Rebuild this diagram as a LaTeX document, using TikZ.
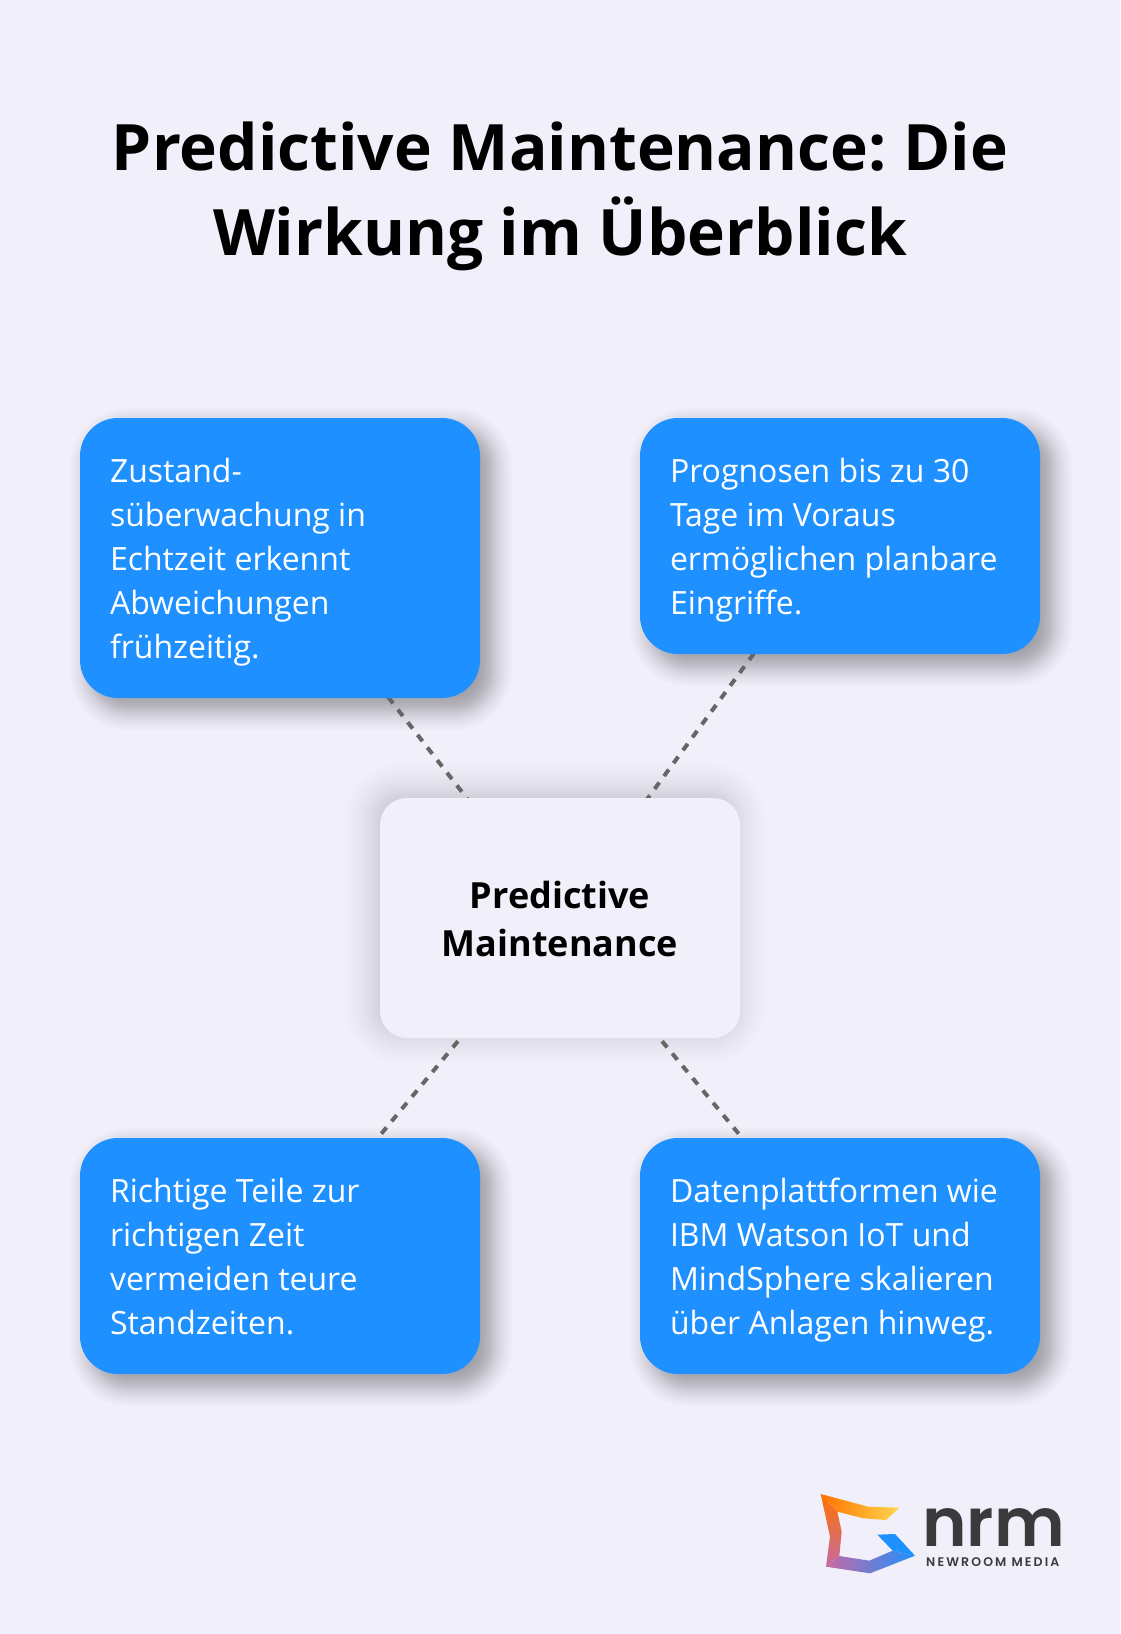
\documentclass[tikz,border=0pt]{standalone}
\usepackage{fontspec}
\setmainfont{Open Sans}
\newfontfamily\logofont{Poppins SemiBold}
\newfontfamily\logosmall[LetterSpace=17]{Poppins SemiBold}
\usetikzlibrary{calc,backgrounds}
\definecolor{pagebg}{HTML}{F1F0FA}
\definecolor{boxblue}{HTML}{1E90FF}
\definecolor{linegray}{HTML}{666666}
\definecolor{logodark}{HTML}{3A3A3C}
\definecolor{logomid}{HTML}{5F94F0}
\newcommand{\topstrut}{\rule{0pt}{39pt}}
\newcommand{\hubstrut}{\rule{0pt}{44pt}}
\tikzset{
  bluebox/.style={fill=boxblue,text=white,rounded corners=38pt,minimum width=400pt,text width=340pt,inner xsep=30pt,inner ysep=0pt,align=flush left,font=\fontsize{32}{44}\selectfont},
  hubbox/.style={fill=pagebg,rounded corners=27pt,minimum width=360pt,minimum height=240pt,align=flush center,font=\fontsize{36}{48}\selectfont\bfseries},
  titletext/.style={align=flush center,font=\fontsize{64}{85}\selectfont\bfseries},
  linkline/.style={draw=linegray,line width=4pt,dash pattern=on 8pt off 8pt},
}
\newcommand{\softshadow}[6]{% node, dx, dy, blur, radius, opacity
  \foreach \i in {0,...,24}{
    \pgfmathsetmacro{\t}{1-\i/12}
    \pgfmathsetmacro{\e}{#4*(0.7*\t+0.3*\t*\t*\t)}
    \pgfmathsetmacro{\rr}{max(#5+\e,1)}
    \fill[black,fill opacity=#6,rounded corners=\rr pt]
      ($(#1.north west)+(#2-\e,#3-\e)$) rectangle ($(#1.south east)+(#2+\e,#3+\e)$);
  }
}
\begin{document}
\begin{tikzpicture}[x=1pt,y=-1pt]
\useasboundingbox (0,0) rectangle (1120,1634);
\node[titletext] (title) at (560,196) {\frenchspacing Predictive Maintenance: Die\\Wirkung im Überblick};
\node[bluebox,minimum height=280pt] (tl) at (280,558) {\topstrut Zustand-\\süberwachung in\\Echtzeit erkennt\\Abweichungen\\frühzeitig.\strut};
\node[bluebox,minimum height=236pt] (tr) at (840,536) {\topstrut Prognosen bis zu 30\\Tage im Voraus\\ermöglichen planbare\\Eingriffe.\strut};
\node[bluebox,minimum height=236pt] (bl) at (280,1256) {\topstrut Richtige Teile zur\\richtigen Zeit\\vermeiden teure\\Standzeiten.\strut};
\node[bluebox,minimum height=236pt] (br) at (840,1256) {\topstrut Datenplattformen wie\\IBM Watson IoT und\\MindSphere skalieren\\über Anlagen hinweg.\strut};
\node[hubbox] (hub) at (560,918) {\hubstrut Predictive\\Maintenance\strut};
\node[anchor=base west,inner sep=0pt,text=logodark,font=\fontsize{67.5}{68}\logofont] (nrm) at (922,1546) {nrm};
\node[anchor=base west,inner sep=0pt,text=logodark,font=\fontsize{12.5}{13}\logosmall] (nm) at (926,1566.5) {NEWROOM MEDIA};
\begin{scope}[on background layer]
  \fill[pagebg] (0,0) rectangle (1120,1634);
  \softshadow{tl}{11}{11}{21}{38}{0.017}
  \softshadow{tr}{11}{11}{21}{38}{0.017}
  \softshadow{bl}{11}{11}{21}{38}{0.017}
  \softshadow{br}{11}{11}{21}{38}{0.017}
  \softshadow{hub}{-5}{-5}{30}{27}{0.008}
  \draw[linkline] (hub.center) -- (tl.center);
  \draw[linkline] (hub.center) -- (tr.center);
  \draw[linkline] (hub.center) -- (bl.center);
  \draw[linkline] (hub.center) -- (br.center);
\end{scope}
% logo
\begin{scope}[shift={(780,1460)},x=0.3333pt,y=-0.3333pt]
  \shade[left color=orange!90!red,right color=yellow!55!orange!70!white]
    (122,102) -- (265,140) -- (358,143) -- (318,180) -- (250,175) -- (172,155) -- cycle;
  \shade[top color=orange!90!red,middle color=red!45!orange!85!white,bottom color=violet!45!pink]
    (122,102) -- (172,155) -- (185,215) -- (178,288) -- (138,320) -- (150,230) -- cycle;
  \shade[left color=violet!45!pink,middle color=logomid,right color=boxblue]
    (138,320) -- (178,288) -- (268,302) -- (338,272) -- (405,287) -- (270,340) -- cycle;
  \fill[boxblue] (292,224) -- (345,222) -- (405,287) -- (338,272) -- cycle;
\end{scope}
\end{tikzpicture}
\end{document}
